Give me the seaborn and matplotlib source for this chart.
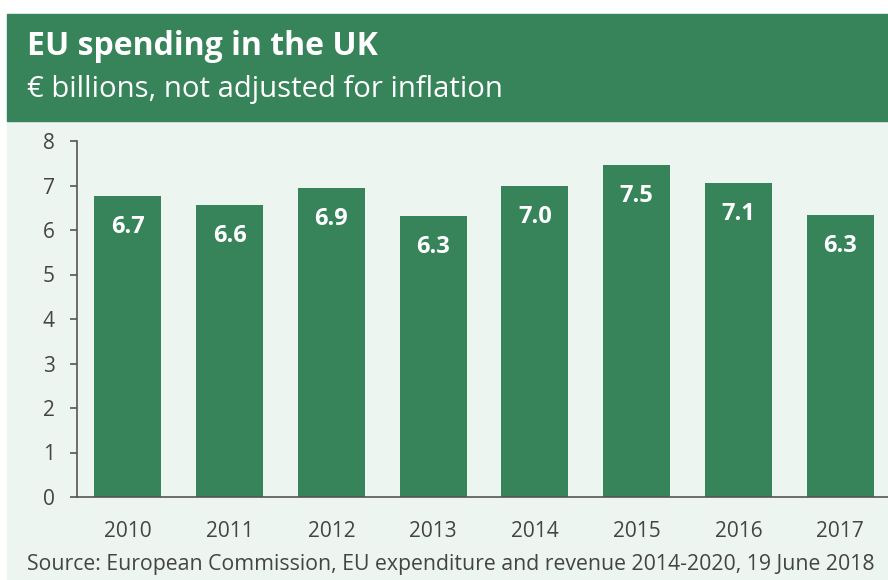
import matplotlib
matplotlib.use("Agg")
import matplotlib.pyplot as plt
from matplotlib.patches import Rectangle
import seaborn as sns
import pandas as pd

# Chart data
years = ["2010", "2011", "2012", "2013", "2014", "2015", "2016", "2017"]
spending = [6.76, 6.56, 6.94, 6.31, 6.99, 7.46, 7.06, 6.33]
bar_labels = ["6.7", "6.6", "6.9", "6.3", "7.0", "7.5", "7.1", "6.3"]
y_ticks = [0, 1, 2, 3, 4, 5, 6, 7, 8]

title = "EU spending in the UK"
subtitle = "€ billions, not adjusted for inflation"
source = "Source: European Commission, EU expenditure and revenue 2014-2020, 19 June 2018"

green = "#37845a"
light_bg = "#ecf5f0"
text_grey = "#444444"

sns.set_theme(style="white")
plt.rcParams["font.family"] = ["Open Sans", "DejaVu Sans"]

W, H = 888, 580
fig = plt.figure(figsize=(W / 100, H / 100), dpi=100)
fig.patch.set_facecolor("white")

# Header band and light panel (pixel coords -> figure fraction)
def fx(px):
    return px / W

def fy(py):
    return 1 - py / H

fig.patches.append(Rectangle((fx(7), fy(580)), fx(W - 7), (580 - 121) / H,
                             transform=fig.transFigure, color=light_bg, zorder=-10))
fig.patches.append(Rectangle((fx(7), fy(121)), fx(W - 7), (121 - 14) / H,
                             transform=fig.transFigure, color=green, zorder=-10))

fig.text(fx(27), fy(55), title, color="white", fontsize=23, fontweight="bold",
         va="baseline", ha="left")
fig.text(fx(27), fy(97), subtitle, color="white", fontsize=21.1, va="baseline", ha="left")
fig.text(fx(27), fy(570), source, color=text_grey, fontsize=15.3, va="baseline", ha="left")

ax = fig.add_axes([fx(77), fy(497), 1 - fx(77), (497 - 141) / H])
ax.set_facecolor("none")
ax.set_zorder(5)

df = pd.DataFrame({"Year": years, "Spending": spending})
sns.barplot(data=df, x="Year", y="Spending", color=green, width=0.66,
            saturation=1, ax=ax, edgecolor="none")

# Value labels inside the bars, near the top
for idx, (val, lab) in enumerate(zip(spending, bar_labels)):
    ax.annotate(lab, (idx, val), xytext=(0, -31), textcoords="offset pixels",
                ha="center", va="center", color="white", fontsize=17, fontweight="bold")

ax.set_xlim(-0.5, 7.47)
ax.set_ylim(0, 8)
ax.set_yticks(y_ticks)
ax.set_xlabel("")
ax.set_ylabel("")

for side in ["top", "right"]:
    ax.spines[side].set_visible(False)
for side in ["left", "bottom"]:
    ax.spines[side].set_color("#555555")
    ax.spines[side].set_linewidth(1.2)

ax.tick_params(axis="y", left=True, length=5, width=1.2, color="#555555",
               labelsize=15, labelcolor=text_grey, pad=11)
ax.tick_params(axis="x", bottom=False, labelsize=15, labelcolor=text_grey, pad=11)

fig.savefig("out.png", dpi=100, facecolor=fig.get_facecolor())
